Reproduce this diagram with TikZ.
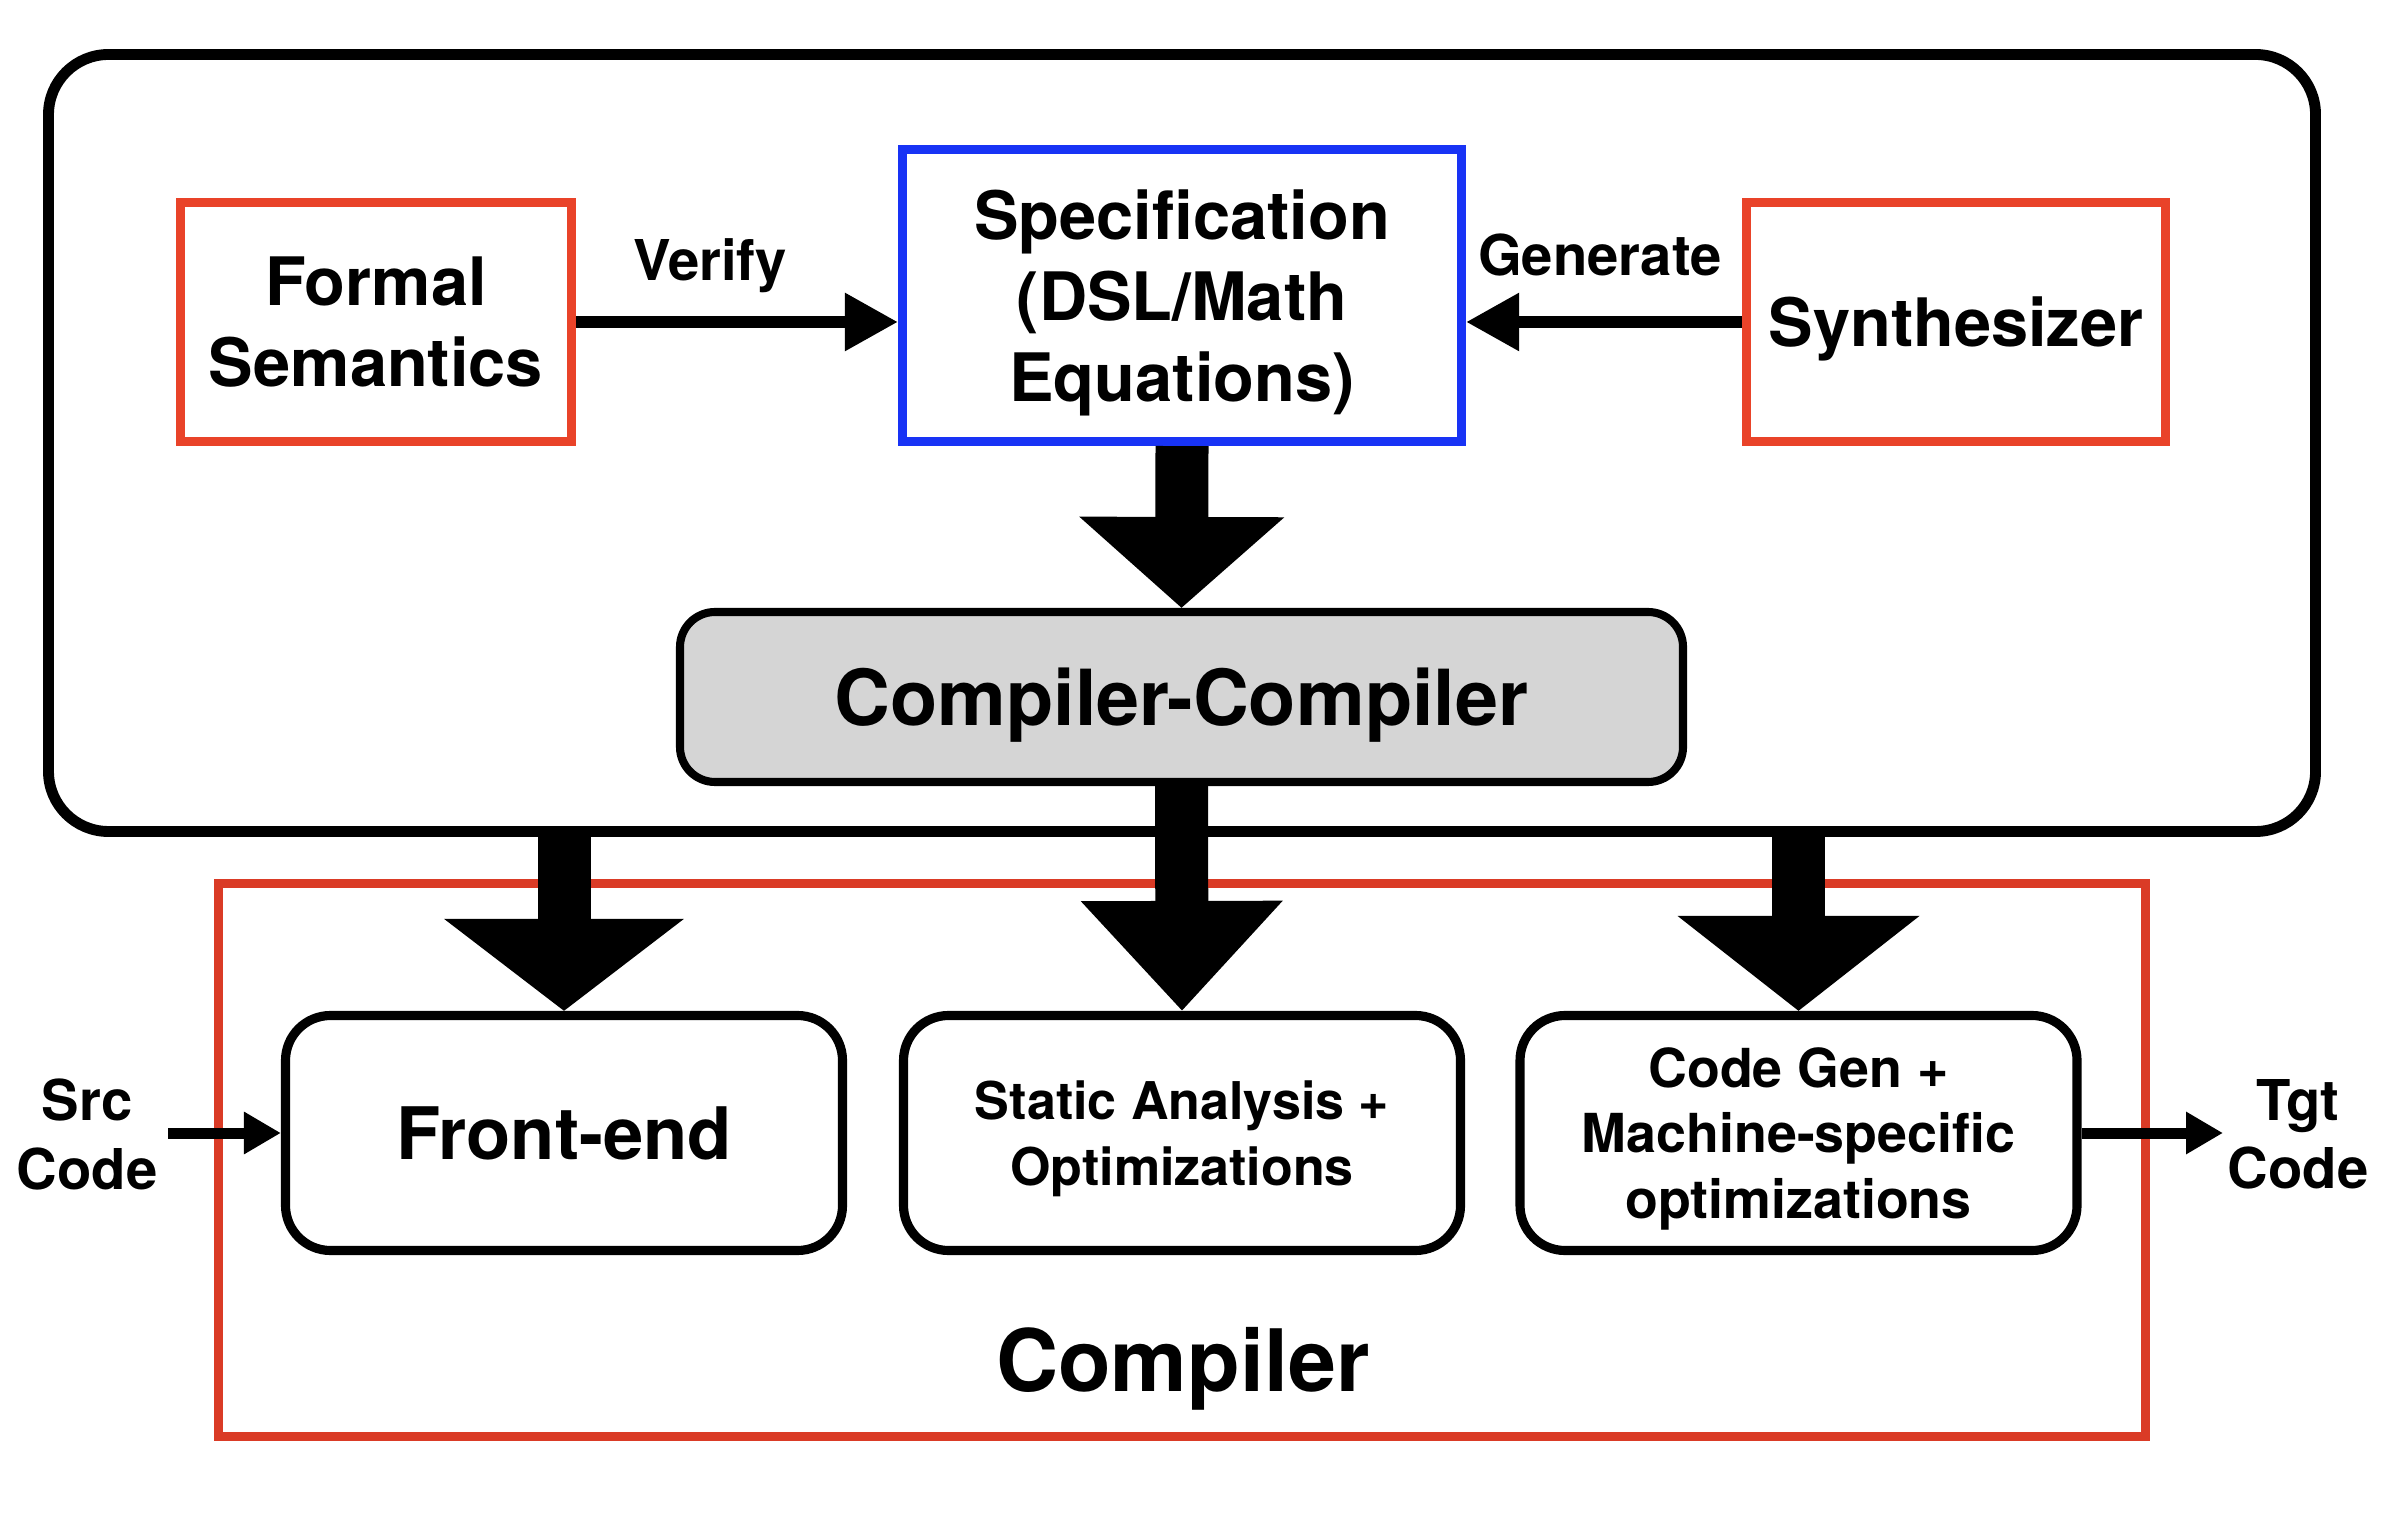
\documentclass[tikz,border=0pt]{standalone}
\usepackage{fontspec}
\setmainfont{TeX Gyre Heros}
\usetikzlibrary{arrows.meta,positioning}
\definecolor{semred}{RGB}{233,67,41}
\definecolor{compred}{RGB}{218,59,38}
\definecolor{specblue}{RGB}{24,51,245}
\definecolor{ccgray}{RGB}{213,213,213}
\begin{document}
\begin{tikzpicture}[every node/.append style={text depth=0pt},
  inbox/.style={line width=2.6pt, align=center, inner sep=0pt, font=\bfseries\fontsize{19}{23}\selectfont},
  stagebox/.style={draw, line width=2.6pt, rounded corners=0.45cm, minimum width=5.57cm, minimum height=2.35cm, align=center, inner sep=0pt, font=\bfseries\fontsize{14.8}{18.7}\selectfont},
  lbl/.style={align=center, inner sep=0pt, font=\bfseries\fontsize{16}{19.5}\selectfont},
  thinarrow/.style={line width=0.12cm, -{Triangle[length=0.53cm, width=0.55cm]}},
  ioarrow/.style={line width=0.11cm, -{Triangle[length=0.37cm, width=0.40cm]}},
  blockarrow/.style={line width=0.53cm}]
\useasboundingbox (0,0) rectangle (23.94,15.24);
\node[draw, line width=3.1pt, rounded corners=0.6cm, minimum width=22.67cm, minimum height=7.77cm] (outer) at (11.82,10.81) {};
\node[inbox, draw=semred, minimum width=3.91cm, minimum height=2.39cm] (sem) at (3.76,12.02) {Formal\\Semantics};
\node[inbox, draw=specblue, minimum width=5.59cm, minimum height=2.92cm] (spec) at (11.82,12.285) {Specification\\(DSL/Math\\Equations)};
\node[inbox, draw=semred, minimum width=4.19cm, minimum height=2.39cm] (syn) at (19.56,12.02) {Synthesizer};
\node[draw, fill=ccgray, line width=2.3pt, rounded corners=0.35cm, minimum width=10.03cm, minimum height=1.70cm, inner sep=0pt, font=\bfseries\fontsize{22}{26}\selectfont] (cc) at (11.815,8.27) {Compiler-Compiler};
\draw[thinarrow] (sem.east) -- (sem.east -| spec.west);
\draw[thinarrow] (syn.west) -- (syn.west -| spec.east);
\node[lbl] (verify) at (7.10,12.64) {Verify};
\node[lbl] (gen) at (16.00,12.69) {Generate};
\node[draw=compred, line width=2.6pt, minimum width=19.27cm, minimum height=5.53cm] (comp) at (11.82,3.64) {};
\node[inbox, font=\bfseries\fontsize{24.5}{29}\selectfont] (complbl) at (11.83,1.65) {Compiler};
\node[stagebox, font=\bfseries\fontsize{20.6}{25}\selectfont] (fe) at (5.64,3.91) {Front-end};
\node[stagebox] (st) at (11.82,3.91) {Static Analysis +\\Optimizations};
\node[stagebox, font=\bfseries\fontsize{15.3}{18.7}\selectfont] (cg) at (17.985,3.91) {Code Gen +\\Machine-specific\\optimizations};
\draw[blockarrow, -{Triangle[length=0.91cm, width=2.0cm]}] (spec.south) -- (cc.north);
\draw[blockarrow, -{Triangle[length=0.92cm, width=2.35cm]}] (outer.south -| fe.north) -- (fe.north);
\draw[blockarrow, -{Triangle[length=1.10cm, width=1.95cm]}] (cc.south) -- (st.north);
\draw[blockarrow, -{Triangle[length=0.95cm, width=2.37cm]}] (outer.south -| cg.north) -- (cg.north);
\node[lbl] (src) at (0.87,3.90) {Src\\Code};
\node[lbl] (tgt) at (22.98,3.90) {Tgt\\Code};
\coordinate (srcin) at (1.68,3.91);
\coordinate (tgtout) at (22.23,3.91);
\draw[ioarrow] (srcin) -- (fe.west);
\draw[ioarrow] (cg.east) -- (tgtout);
\end{tikzpicture}
\end{document}
